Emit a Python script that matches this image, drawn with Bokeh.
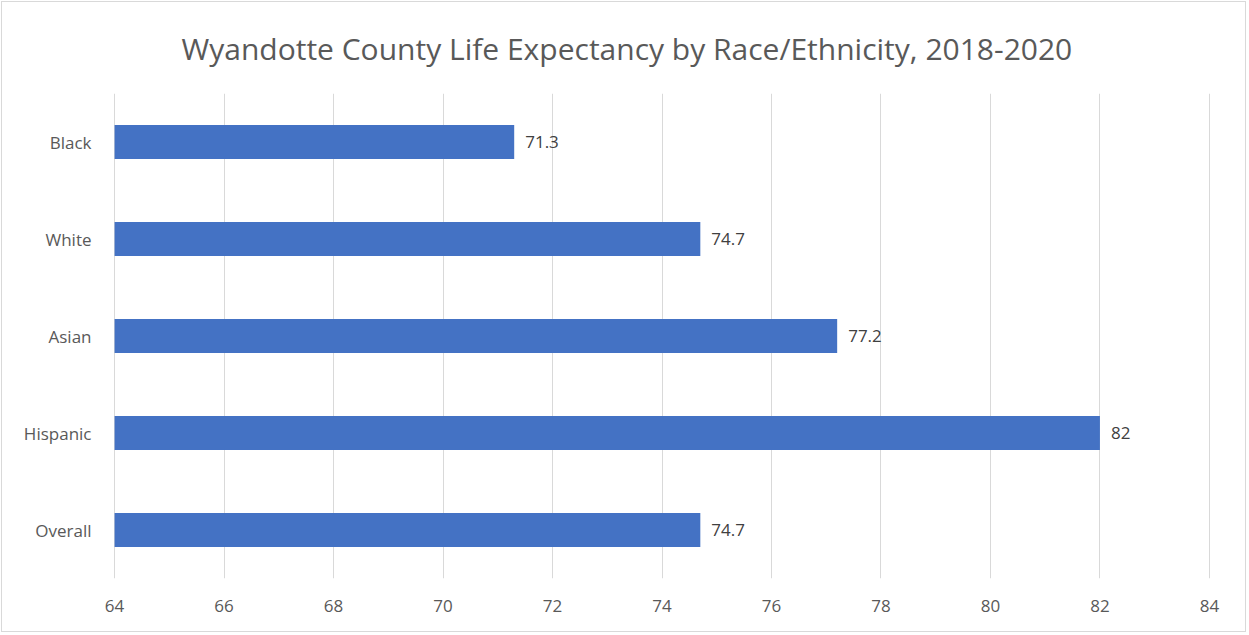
from bokeh.plotting import figure
from bokeh.models import ColumnDataSource, FactorRange, Range1d, FixedTicker, Title
from bokeh.core.properties import value
from bokeh.embed import file_html
from bokeh.resources import INLINE

groups = ["Overall", "Hispanic", "Asian", "White", "Black"]
life_exp = [74.7, 82.0, 77.2, 74.7, 71.3]
labels = ["74.7", "82", "77.2", "74.7", "71.3"]
x_ticks = [64, 66, 68, 70, 72, 74, 76, 78, 80, 82, 84]

FONT = "Open Sans"
src = ColumnDataSource(dict(g=groups, v=life_exp, lab=labels, base=[64] * len(groups)))

p = figure(width=1245, height=631, output_backend="svg", toolbar_location=None,
           y_range=FactorRange(*groups, range_padding=0), x_range=Range1d(63.98, 84.02),
           min_border_left=111, min_border_right=37, min_border_top=91, min_border_bottom=55)
p.styles = {"border": "1px solid #d9d9d9", "margin": "1px"}
p.outline_line_color = None

t = Title(text="Wyandotte County Life Expectancy by Race/Ethnicity, 2018-2020", align="left",
          text_font=FONT, text_font_size="30px", text_font_style="normal", text_color="#595959",
          standoff=46, offset=68, vertical_align="top")
p.add_layout(t, "above")

p.hbar(y="g", left="base", right="v", height=0.35, source=src, fill_color="#4472c4", line_color=None)
p.text(x="v", y="g", text="lab", source=src, x_offset=11, text_baseline="middle", text_align="left",
       text_font=value(FONT), text_font_size="17px", text_color="#404040")

p.xaxis.ticker = FixedTicker(ticks=x_ticks)
for ax in (p.xaxis[0], p.yaxis[0]):
    ax.axis_line_color = None
    ax.major_tick_line_color = None
    ax.minor_tick_line_color = None
    ax.major_label_text_font = FONT
    ax.major_label_text_font_size = "17px"
    ax.major_label_text_color = "#595959"
p.xaxis.major_label_standoff = 15
p.yaxis.major_label_standoff = 16
p.ygrid.grid_line_color = None
p.xgrid.grid_line_color = "#d9d9d9"
p.xgrid.grid_line_width = 1

open("out.html", "w").write(file_html(p, INLINE))
